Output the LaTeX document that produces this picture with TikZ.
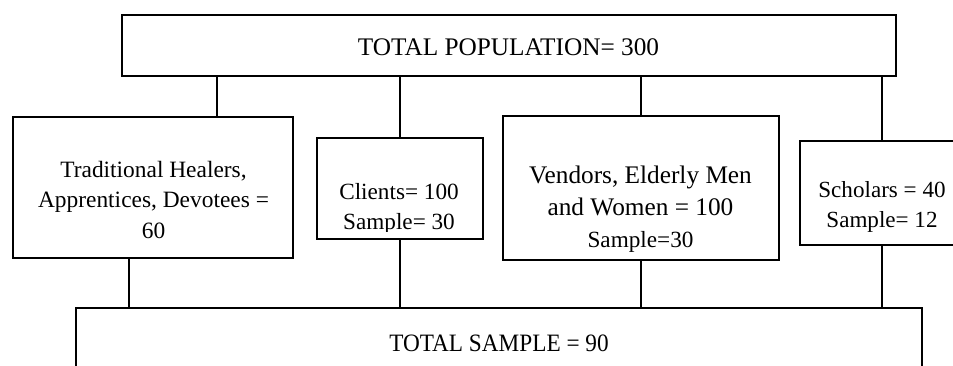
\documentclass[tikz,border=0pt]{standalone}
\usepackage{fontspec}
\setmainfont{Liberation Serif}
\usepackage{graphicx}
\tikzset{
  box/.style={draw=black, line width=0.8pt, inner sep=0pt},
  lbl/.style={inner sep=0pt, align=center, text=black},
  link/.style={draw=black, line width=0.8pt},
}
\newcommand{\fbig}{\fontsize{12.65}{16}\selectfont}
\begin{document}
\begin{tikzpicture}[x=0.5pt,y=-0.5pt]
\clip (0,0) rectangle (953,365);

% boxes
\node[box, minimum width=387pt, minimum height=30.5pt] (top) at (509,45.5) {};
\node[box, minimum width=140pt, minimum height=70.5pt] (heal) at (153,187.5) {};
\node[box, minimum width=83pt, minimum height=50.5pt] (clients) at (400,188.5) {};
\node[box, minimum width=138pt, minimum height=72pt] (vendors) at (641,188) {};
\node[box, minimum width=82pt, minimum height=52pt] (scholars) at (882,193) {};
\node[box, minimum width=423pt, minimum height=50pt] (total) at (499,358) {};

% texts
\node[lbl, font=\fbig, anchor=base] (toplbl) at (508.5,55) {TOTAL POPULATION= 300};
\node[lbl, font=\fontsize{11.7}{15.35}\selectfont, anchor=north] (heallbl) at (153.5,155.2)
  {\strut Traditional Healers,\\\strut Apprentices, Devotees =\\\strut 60};
\begin{scope}
  % the second line runs past the inner edge of its box and is cut there
  \clip (317,138) rectangle (483,231.5);
  \node[lbl, font=\fontsize{11.6}{14.85}\selectfont, anchor=north] (clientslbl) at (399,178.5)
    {\strut Clients= 100\\\strut Sample= 30};
\end{scope}
\node[lbl, font=\fbig, anchor=north] (vendorslbl) at (640.5,160.3)
  {\strut Vendors, Elderly Men\\\strut and Women = 100\\\fontsize{11.6}{16}\selectfont\strut Sample=30};
\node[lbl, font=\fontsize{11.55}{15}\selectfont, anchor=north] (scholarslbl) at (882,176.3)
  {\strut Scholars = 40\\\strut Sample= 12};
\node[lbl, font=\fontsize{12.5}{15}\selectfont, anchor=base] (totallbl) at (499,351.7)
  {\scalebox{0.93}[1]{TOTAL SAMPLE = 90}};

% connectors
\coordinate (u1) at (217,0);
\coordinate (d1) at (129,0);
\draw[link] (top.south -| u1) -- (heal.north -| u1);
\draw[link] (top.south -| clients.north) -- (clients.north);
\draw[link] (top.south -| vendors.north) -- (vendors.north);
\draw[link] (top.south -| scholars.north) -- (scholars.north);
\draw[link] (heal.south -| d1) -- (total.north -| d1);
\draw[link] (clients.south) -- (clients.south |- total.north);
\draw[link] (vendors.south) -- (vendors.south |- total.north);
\draw[link] (scholars.south) -- (scholars.south |- total.north);
\end{tikzpicture}
\end{document}
